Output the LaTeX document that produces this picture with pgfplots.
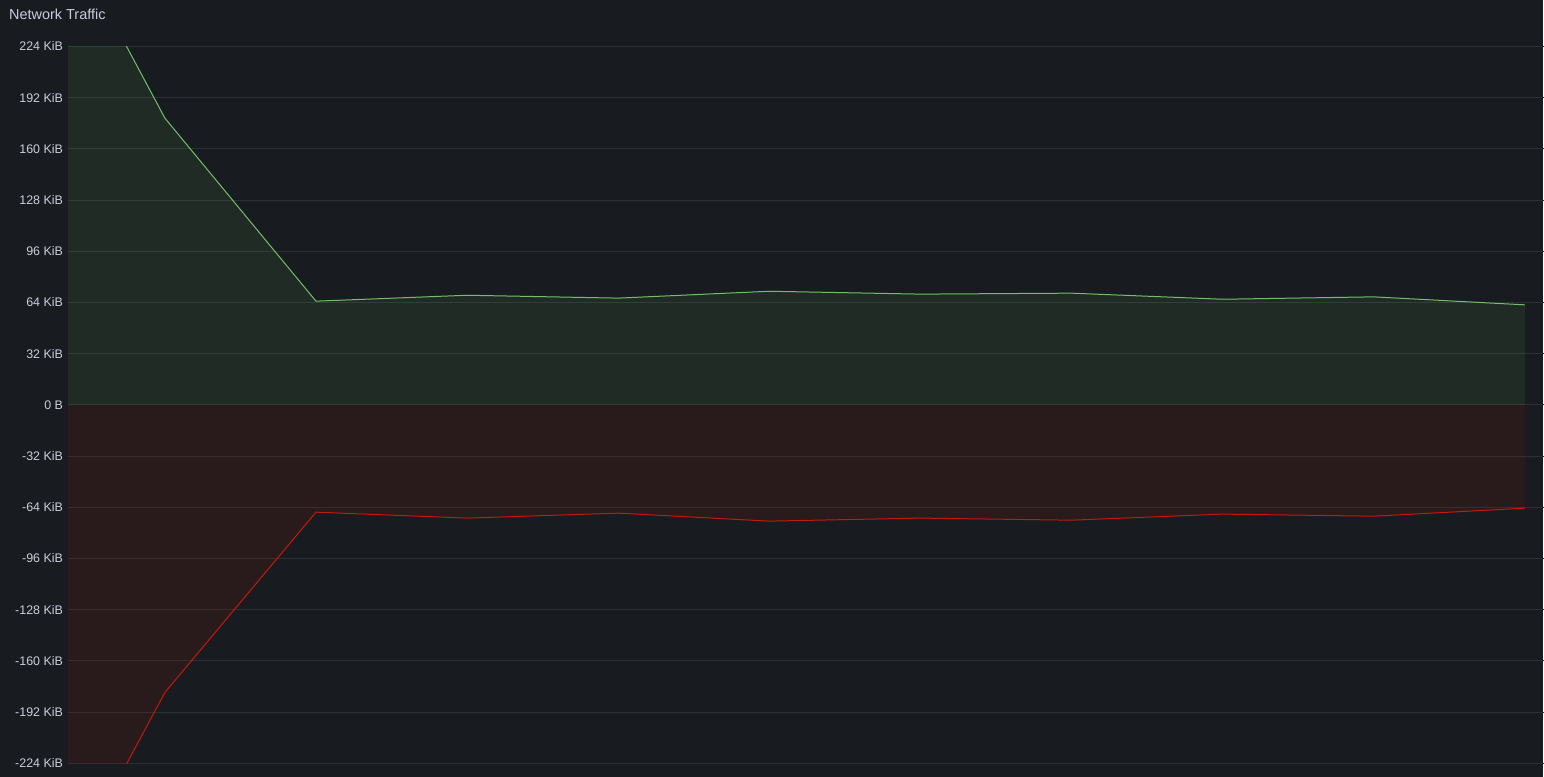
\documentclass[border=0pt]{standalone}
\usepackage{pgfplots}
\pgfplotsset{compat=1.18}
\usepackage{pgfplotstable}
\usepackage{fontspec}
\setmainfont{Liberation Sans}
\definecolor{bg}{HTML}{181B1F}
\definecolor{gridc}{HTML}{2C2F34}
\definecolor{txt}{HTML}{CCCCDC}
\definecolor{grn}{HTML}{73BF69}
\definecolor{rd}{HTML}{C8180A}
\pgfplotstableread{
t  rx     tx
0  356.0  -356.0
1  179.2  -179.8
2  64.8   -67.1
3  68.5   -70.8
4  66.7   -67.7
5  71.0   -72.7
6  69.2   -70.8
7  69.8   -72.1
8  66.0   -68.3
9  67.5   -69.6
10 62.5   -64.6
}\traffic
\begin{document}
\begin{tikzpicture}[x=1bp,y=1bp]
\fill[bg] (0,0) rectangle (1544,777);
\node[anchor=west, text=txt, font=\fontsize{14.5}{16}\selectfont, inner sep=0pt] at (9,763) {Network Traffic};
\begin{axis}[
  at={(68bp,13.5bp)}, anchor=south west,
  scale only axis, width=1476bp, height=717bp,
  xmin=0.3586, xmax=10.124, ymin=-224, ymax=224,
  axis line style={draw=none},
  xtick=\empty,
  ytick={-224,-192,-160,-128,-96,-64,-32,0,32,64,96,128,160,192,224},
  yticklabels={-224 KiB,-192 KiB,-160 KiB,-128 KiB,-96 KiB,-64 KiB,-32 KiB,0 B,32 KiB,64 KiB,96 KiB,128 KiB,160 KiB,192 KiB,224 KiB},
  ymajorgrids, grid style={gridc, line width=1bp},
  major tick length=0pt, tick style={draw=none},
  yticklabel style={text=txt, font=\fontsize{12.5}{14}\selectfont, inner sep=0pt, outer sep=0pt, anchor=east},
  yticklabel shift=5bp,
]
\addplot[draw=none, fill=grn, fill opacity=0.1] table[x=t, y=rx] {\traffic} \closedcycle;
\addplot[draw=none, fill=rd, fill opacity=0.1] table[x=t, y=tx] {\traffic} \closedcycle;
\addplot[grn, line width=1bp, mark=none] table[x=t, y=rx] {\traffic};
\addplot[rd, line width=1bp, mark=none] table[x=t, y=tx] {\traffic};
\end{axis}
\end{tikzpicture}
\end{document}
